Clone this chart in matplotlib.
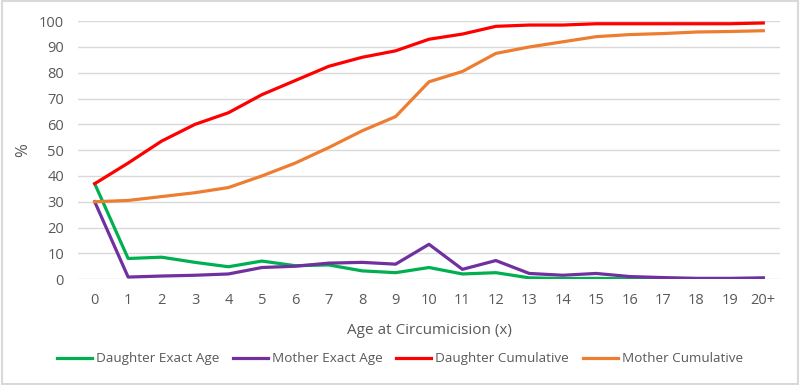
import matplotlib.pyplot as plt
import matplotlib.patches as mpatches
import numpy as np

# Age at circumcision: exact-age and cumulative shares (%)
ages = ['0', '1', '2', '3', '4', '5', '6', '7', '8', '9', '10',
        '11', '12', '13', '14', '15', '16', '17', '18', '19', '20+']
daughter_exact = [37, 8, 8.5, 6.5, 4.8, 7, 5.2, 5.5, 3.2, 2.5, 4.5,
                  2, 2.5, 0.5, 0.2, 0.3, 0.1, 0.1, 0, 0, 0.3]
mother_exact = [30, 0.8, 1.2, 1.5, 2, 4.5, 5, 6.2, 6.5, 5.8, 13.5,
                3.8, 7.2, 2.2, 1.5, 2.2, 1, 0.6, 0.3, 0.3, 0.5]
daughter_cum = [37, 45, 53.5, 60, 64.5, 71.5, 77, 82.5, 86, 88.5, 93,
                95, 98, 98.5, 98.5, 99, 99, 99, 99, 99, 99.3]
mother_cum = [30, 30.5, 32, 33.5, 35.5, 40, 45, 51, 57.5, 63, 76.5,
              80.5, 87.5, 90, 92, 94, 94.8, 95.2, 95.8, 96, 96.3]

plt.rcParams['font.family'] = ['Open Sans', 'DejaVu Sans']
txt = '#595959'

fig = plt.figure(figsize=(8, 3.85), dpi=100)
ax = fig.add_axes([0.0975, 0.275, 0.8775, 0.67])

x = np.arange(len(ages))
ax.plot(x, daughter_exact, color='#00B050', lw=2.3, label='Daughter Exact Age')
ax.plot(x, mother_exact, color='#7030A0', lw=2.3, label='Mother Exact Age')
ax.plot(x, daughter_cum, color='#FF0000', lw=2.3, label='Daughter Cumulative')
ax.plot(x, mother_cum, color='#ED7D31', lw=2.3, label='Mother Cumulative')

ax.set_xlim(-0.5, len(ages) - 0.5)
ax.set_ylim(0, 100)
ax.set_yticks(np.arange(0, 101, 10))
ax.set_xticks(x)
ax.set_xticklabels(ages)
ax.grid(axis='y', color='#d9d9d9', lw=1)
ax.set_axisbelow(True)
for s in ax.spines.values():
    s.set_visible(False)
ax.tick_params(length=0, colors=txt, labelsize=10.5)
ax.tick_params(axis='x', pad=10)
ax.tick_params(axis='y', pad=10)

ax.set_ylabel('%', color=txt, fontsize=12, labelpad=6)
ax.set_xlabel('Age at Circumicision (x)', color=txt, fontsize=11, labelpad=11)

leg = fig.legend(loc='center', bbox_to_anchor=(0.5, 0.068), ncol=4, frameon=False,
                 fontsize=9.7, handlelength=2.6, columnspacing=1.0, handletextpad=0.3)
for t in leg.get_texts():
    t.set_color(txt)

fig.patches.append(mpatches.Rectangle((0.002, 0.003), 0.996, 0.994, transform=fig.transFigure,
                                      fill=False, edgecolor='#d9d9d9', lw=1.5))

plt.savefig('out.png', dpi=100)
